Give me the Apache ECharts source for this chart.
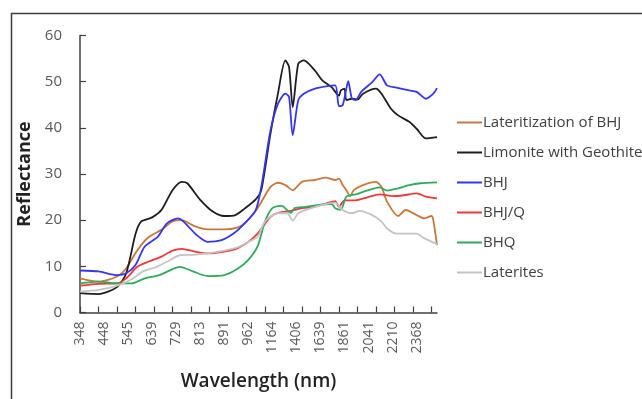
<!DOCTYPE html>
<html>
<head>
<meta charset="utf-8">
<script src="https://cdn.jsdelivr.net/npm/echarts@6/dist/echarts.min.js"></script>
<style>html,body{margin:0;padding:0;background:#fff}#c{width:642px;height:399px}</style>
</head>
<body>
<div id="c"></div>
<script>
// Wavelength tick labels (shown every 13th category)
const wlLabels = ['348','448','545','639','729','813','891','962','1164','1406','1639','1861','2041','2210','2368'];
const nCategories = 194;
const labelEvery = 13;
const tickEvery = 10;

// Series values as [category index, reflectance]
const lateritizationBHJ = [[0,7.4],[10,6.7],[20,7.8],[25,9.6],[31,13.5],[37,16.3],[44,17.9],[50,19.7],[55,20],[62,18.7],[69,18],[78,18],[85,18.4],[90,19.7],[96,22.6],[103,27.2],[107,28.1],[111,27.6],[115,26.5],[120,28.3],[127,28.7],[133,29.2],[138,28.7],[140,29],[142,27.6],[144,26.5],[146,25.2],[148,26.5],[153,27.6],[160,28.3],[163,27.2],[166,24],[172,20.9],[176,22.2],[182,21.1],[186,20.4],[190,20.9],[191,20],[193,14.6]];
const limonite = [[0,4.2],[10,4.0],[20,5.5],[25,8.5],[30,17],[33,19.7],[39,20.6],[44,22.2],[50,26.5],[55,28.3],[58,28],[65,24.4],[72,21.8],[78,20.9],[84,21.1],[89,22.5],[95,24.5],[98,26.5],[103,38.8],[107,47.4],[111,54.6],[113,53.2],[115,44.5],[118,53.9],[121,54.6],[127,52.4],[131,50.3],[136,48.8],[140,47],[141,48.1],[143,48.5],[144,46],[147,46.3],[150,46.1],[153,47.4],[160,48.5],[163,47.4],[168,44.2],[172,42.7],[178,41.3],[182,39.8],[187,37.7],[191,37.9],[193,38]];
const bhj = [[0,9.1],[10,8.9],[20,8.1],[25,8.5],[30,10.3],[35,14.3],[42,16.4],[47,19.3],[53,20.4],[56,19.7],[63,16.8],[69,15.3],[76,15.6],[83,17.1],[89,19.3],[95,22.2],[98,27.2],[103,39.5],[107,45.2],[111,47.4],[113,46.7],[115,38.4],[118,46],[121,47.4],[127,48.5],[133,49],[138,49.2],[140,44.7],[142,44.9],[144,48.5],[145,50.1],[147,46.3],[149,46],[152,47.8],[158,49.9],[162,51.6],[166,49.2],[171,48.7],[178,48.1],[182,47.8],[187,46.3],[191,47.4],[193,48.6]];
const bhjQ = [[0,5.8],[10,6.2],[20,6.3],[25,7.4],[31,9.9],[37,11],[44,12.1],[50,13.4],[55,13.8],[62,13.2],[69,12.8],[78,13.2],[85,13.9],[91,15.3],[96,17.1],[103,20.7],[107,21.6],[114,22],[120,22.6],[127,22.9],[133,23.6],[138,24.1],[140,22.9],[143,24.3],[149,24.3],[155,24.9],[162,25.6],[169,25.2],[175,25.4],[182,25.8],[187,25.1],[193,24.7]];
const bhq = [[0,6.3],[10,6.7],[20,6.3],[28,6.3],[35,7.4],[43,8.1],[50,9.4],[54,9.9],[61,8.9],[69,7.9],[78,8.1],[85,9.4],[91,11.4],[96,14.3],[100,19.7],[104,22.6],[109,23.1],[114,21.6],[116,22.6],[122,22.9],[129,23.3],[136,23.5],[138,22.6],[141,22.3],[144,25.1],[149,25.6],[155,26.4],[162,27.1],[166,26.4],[172,26.9],[178,27.6],[184,28],[193,28.2]];
const laterites = [[0,4.5],[10,4.9],[20,5.8],[28,7.2],[34,8.9],[41,9.8],[47,11],[54,12.4],[61,12.5],[69,12.8],[78,13.4],[85,14.1],[91,15.3],[96,16.4],[100,19.7],[107,21.5],[112,21.5],[115,19.9],[118,21.5],[125,22.6],[131,23.3],[138,23.8],[142,22.2],[147,21.5],[151,22],[158,21.1],[163,19.7],[166,18.2],[171,17.1],[175,17.1],[182,17.1],[186,16.1],[193,14.8]];

const seriesNames = ['Lateritization of BHJ','Limonite with Geothite','BHJ','BHJ/Q','BHQ','Laterites'];
const seriesData = [lateritizationBHJ, limonite, bhj, bhjQ, bhq, laterites];
const seriesColors = ['#c8783c','#1e1e1e','#3535f0','#f03838','#2eaa5c','#c4c4c4'];

const categories = Array.from({length: nCategories}, (_, i) =>
  (i % labelEvery === 0 && wlLabels[i / labelEvery]) ? wlLabels[i / labelEvery] : '');

const chart = echarts.init(document.getElementById('c'), null, {renderer: 'canvas'});
const font = '"Open Sans", "Liberation Sans", sans-serif';
chart.setOption({
  animation: false,
  backgroundColor: '#fff',
  graphic: [{
    type: 'rect', left: 9, top: 11, shape: {width: 700, height: 500},
    style: {fill: 'none', stroke: '#3c3c3c', lineWidth: 1.5}, silent: true, z: 100
  }],
  grid: {left: 80, right: 205, top: 35.5, bottom: 86.5},
  legend: {
    orient: 'vertical', left: 452, top: 110, itemGap: 15,
    icon: 'rect', itemWidth: 25, itemHeight: 2,
    textStyle: {fontFamily: font, fontSize: 15, color: '#404040', padding: [0,0,0,-4]},
    data: seriesNames
  },
  xAxis: {
    type: 'category', boundaryGap: false, data: categories,
    name: 'Wavelength (nm)', nameLocation: 'middle', nameGap: 60,
    nameTextStyle: {fontFamily: font, fontSize: 19, fontWeight: 600, color: '#222'},
    axisLine: {lineStyle: {color: '#404040', width: 1.5}},
    axisTick: {inside: true, length: 6, interval: tickEvery - 1, lineStyle: {color: '#404040', width: 1.2}},
    axisLabel: {rotate: 90, interval: labelEvery - 1, margin: 9, fontFamily: font, fontSize: 14, color: '#595959'},
    splitLine: {show: false}
  },
  yAxis: {
    type: 'value', min: 0, max: 60, interval: 10,
    name: 'Reflectance', nameLocation: 'middle', nameGap: 43, nameRotate: 90,
    nameTextStyle: {fontFamily: font, fontSize: 18, fontWeight: 'bold', color: '#222'},
    axisLine: {show: true, lineStyle: {color: '#404040', width: 1.5}},
    axisTick: {show: true, inside: true, length: 6, lineStyle: {color: '#404040', width: 1.2}},
    axisLabel: {margin: 18, fontFamily: font, fontSize: 15, color: '#595959'},
    splitLine: {show: false}
  },
  series: seriesNames.map((n, k) => ({
    name: n, type: 'line', data: seriesData[k], smooth: 0.25, showSymbol: false,
    lineStyle: {color: seriesColors[k], width: 1.8}, itemStyle: {color: seriesColors[k]}
  }))
});
</script>
</body>
</html>
